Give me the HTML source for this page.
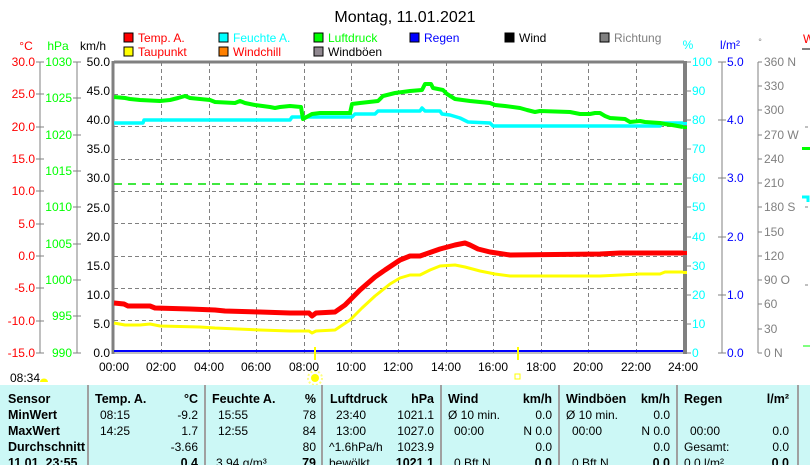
<!DOCTYPE html>
<html><head><meta charset="utf-8"><style>
html,body{margin:0;padding:0;background:#fff;width:810px;height:465px;overflow:hidden}
svg{display:block;font-family:"Liberation Sans",sans-serif}
.t{font-size:12px}
.b{font-size:12.5px;font-weight:bold}
</style></head><body>
<svg width="810" height="465" viewBox="0 0 810 465" xmlns="http://www.w3.org/2000/svg">
<text x="405" y="22" font-size="16" text-anchor="middle" fill="#000">Montag, 11.01.2021</text>
<!-- legend -->
<g font-size="12">
<rect x="124" y="33" width="9" height="9" fill="#f00" stroke="#000"/><text x="138" y="42" fill="#f00">Temp. A.</text>
<rect x="124" y="47" width="9" height="9" fill="#ff0" stroke="#000"/><text x="138" y="56" fill="#f00">Taupunkt</text>
<rect x="219" y="33" width="9" height="9" fill="#0ff" stroke="#000"/><text x="233" y="42" fill="#0ff">Feuchte A.</text>
<rect x="219" y="47" width="9" height="9" fill="#ff8000" stroke="#000"/><text x="233" y="56" fill="#f00">Windchill</text>
<rect x="314" y="33" width="9" height="9" fill="#0f0" stroke="#000"/><text x="328" y="42" fill="#0f0">Luftdruck</text>
<rect x="314" y="47" width="9" height="9" fill="#908890" stroke="#000"/><text x="328" y="56" fill="#000">Windböen</text>
<rect x="410" y="33" width="9" height="9" fill="#00f" stroke="#000"/><text x="424" y="42" fill="#00f">Regen</text>
<rect x="505" y="33" width="9" height="9" fill="#000" stroke="#000"/><text x="519" y="42" fill="#000">Wind</text>
<rect x="600" y="33" width="9" height="9" fill="#808080" stroke="#000"/><text x="614" y="42" fill="#808080">Richtung</text>
</g>
<!-- axis titles -->
<g font-size="12">
<text x="26" y="50" fill="#f00" text-anchor="middle">°C</text>
<text x="58" y="50" fill="#0f0" text-anchor="middle">hPa</text>
<text x="93" y="50" fill="#000" text-anchor="middle">km/h</text>
<text x="688" y="49" fill="#0ff" text-anchor="middle">%</text>
<text x="730" y="49" fill="#00f" text-anchor="middle">l/m²</text>
<text x="760" y="45" fill="#808080" text-anchor="middle" font-size="9">°</text>
<text x="803" y="43" fill="#f00">W</text>
<line x1="802" y1="49" x2="810" y2="49" stroke="#808080" stroke-width="2"/>
</g>
<!-- left axes -->
<g stroke="#808080" stroke-width="1">
<line x1="40" y1="62" x2="40" y2="353"/><line x1="77" y1="62" x2="77" y2="353"/>
</g>
<g font-size="12" fill="#f00" text-anchor="end">
<text x="35" y="66">30.0</text><text x="35" y="98">25.0</text><text x="35" y="131">20.0</text><text x="35" y="163">15.0</text><text x="35" y="195">10.0</text><text x="35" y="228">5.0</text><text x="35" y="260">0.0</text><text x="35" y="292">-5.0</text><text x="35" y="325">-10.0</text><text x="35" y="357">-15.0</text>
</g>
<g stroke="#808080"><path d="M36 62h8M36 94h8M36 127h8M36 159h8M36 191h8M36 224h8M36 256h8M36 288h8M36 321h8M36 353h8M73 62h8M73 98h8M73 135h8M73 171h8M73 207h8M73 244h8M73 280h8M73 316h8M73 353h8"/></g>
<g font-size="12" fill="#0f0" text-anchor="end">
<text x="72" y="66">1030</text><text x="72" y="102">1025</text><text x="72" y="139">1020</text><text x="72" y="175">1015</text><text x="72" y="211">1010</text><text x="72" y="248">1005</text><text x="72" y="284">1000</text><text x="72" y="320">995</text><text x="72" y="357">990</text>
</g>
<g font-size="12" fill="#000" text-anchor="end">
<text x="110" y="66">50.0</text><text x="110" y="95">45.0</text><text x="110" y="124">40.0</text><text x="110" y="153">35.0</text><text x="110" y="182">30.0</text><text x="110" y="212">25.0</text><text x="110" y="241">20.0</text><text x="110" y="270">15.0</text><text x="110" y="299">10.0</text><text x="110" y="328">5.0</text><text x="110" y="357">0.0</text>
</g>
<!-- grid -->
<g stroke="#808080" stroke-dasharray="4,3" stroke-width="1">
<path d="M114 94.5H683M114 126.5H683M114 159.5H683M114 191.5H683M114 223.5H683M114 256.5H683M114 288.5H683M114 320.5H683"/>
<path d="M161.5 62V353M209.5 62V353M256.5 62V353M304.5 62V353M351.5 62V353M398.5 62V353M446.5 62V353M493.5 62V353M541.5 62V353M588.5 62V353M636.5 62V353"/>
</g>
<!-- plot frame -->
<g stroke="#808080" fill="none">
<path d="M114 62H684" stroke-width="3"/>
<path d="M113 61V354" stroke-width="3"/>
<path d="M685 61V354" stroke-width="4"/>
<path d="M114 353H683" stroke-width="1"/>
</g>
<line x1="114" y1="184" x2="683" y2="184" stroke="#00e000" stroke-width="1.5" stroke-dasharray="8,6"/>
<line x1="114" y1="351" x2="683" y2="351" stroke="#00f" stroke-width="2"/>
<!-- series -->
<g fill="none" stroke-width="4" stroke-linejoin="round">
<polyline stroke="#0ff" stroke-width="3.5" points="114,123 143,123 144,120 290,120 292,117 352,117 355,114 375,114 378,111 420,111 422,108 425,111 440,111 442,114 450,115 460,118 468,122 490,123 493,126 660,126 662,123 683,123"/>
<polyline stroke="#0f0" points="114,97 125,98 130,99 140,100 160,101 170,100 178,98 185,96 190,98 210,100 215,102 235,103 240,101 245,103 255,105 270,107 275,108 280,107 290,106 301,107 303,119 312,114 320,113 350,113 352,104 360,103 378,101 383,96 395,93 410,91 422,90 425,84 431,84 433,88 443,90 447,94 455,99 470,101 490,103 495,105 505,106 520,108 527,110 535,112 540,111 570,112 580,114 590,114 595,113 600,113 605,116 610,118 625,119 630,122 640,121 645,122 660,123 665,124 672,125 683,127"/>
<polyline stroke="#f00" stroke-width="5" points="114,303 124,304 128,306 150,306 155,308 190,309 215,310 225,311 260,312 290,313 309,313 312,316 316,313 335,312 345,305 360,290 375,277 385,270 400,260 410,256 420,256 440,249 455,245 465,243 470,245 478,249 490,252 510,255 600,254 620,253 650,253 683,253"/>
<polyline stroke="#ff0" stroke-width="3" points="114,323 125,325 140,325 150,324 160,326 200,327 215,328 260,330 290,331 309,331 312,333 316,331 335,330 350,320 362,308 375,296 390,284 400,278 410,275 420,275 430,270 440,266 455,265 465,267 480,271 495,274 510,276 600,276 640,274 660,274 665,272 683,272"/>
</g>
<!-- sun markers -->
<line x1="315" y1="347" x2="315" y2="360" stroke="#ff0" stroke-width="2"/>
<line x1="518" y1="347" x2="518" y2="360" stroke="#ff0" stroke-width="2"/>
<circle cx="315" cy="378" r="4" fill="#ff0"/><circle cx="315" cy="378" r="7" fill="none" stroke="#ffff80" stroke-width="2" stroke-dasharray="2,2"/>
<rect x="515" y="374" width="5" height="5" fill="none" stroke="#ff0"/>
<!-- x labels -->
<g font-size="12" fill="#000" text-anchor="middle">
<text x="114" y="371">00:00</text><text x="161" y="371">02:00</text><text x="209" y="371">04:00</text><text x="256" y="371">06:00</text><text x="304" y="371">08:00</text><text x="351" y="371">10:00</text><text x="398" y="371">12:00</text><text x="446" y="371">14:00</text><text x="493" y="371">16:00</text><text x="541" y="371">18:00</text><text x="588" y="371">20:00</text><text x="636" y="371">22:00</text><text x="683" y="371">24:00</text>
</g>
<text x="10" y="382" font-size="12">08:34</text>
<path d="M40 382a4 3.5 0 0 1 8 0z" fill="#ff0"/>
<!-- right axes -->
<g stroke="#808080">
<line x1="722" y1="62" x2="722" y2="353"/><line x1="758" y1="62" x2="758" y2="353"/>
<path d="M687 62h4M687 91h4M687 120h4M687 149h4M687 178h4M687 207h4M687 237h4M687 266h4M687 295h4M687 324h4M687 353h4"/>
<path d="M718 62h8M718 120h8M718 178h8M718 237h8M718 295h8M718 353h8"/>
<path d="M758 62h4M758 86h4M758 110h4M758 135h4M758 159h4M758 183h4M758 207h4M758 232h4M758 256h4M758 280h4M758 304h4M758 329h4M758 353h4"/>
<path d="M805 127h3M805 207h3M805 285h3"/>
</g>
<g font-size="12" fill="#0ff">
<text x="692" y="66">100</text><text x="692" y="95">90</text><text x="692" y="124">80</text><text x="692" y="153">70</text><text x="692" y="182">60</text><text x="692" y="211">50</text><text x="692" y="241">40</text><text x="692" y="270">30</text><text x="692" y="299">20</text><text x="692" y="328">10</text><text x="692" y="357">0</text>
</g>
<g font-size="12" fill="#00f">
<text x="727" y="66">5.0</text><text x="727" y="124">4.0</text><text x="727" y="182">3.0</text><text x="727" y="241">2.0</text><text x="727" y="299">1.0</text><text x="727" y="357">0.0</text>
</g>
<g font-size="12" fill="#808080">
<text x="764" y="66">360 N</text><text x="764" y="90">330</text><text x="764" y="114">300</text><text x="764" y="139">270 W</text><text x="764" y="163">240</text><text x="764" y="187">210</text><text x="764" y="211">180 S</text><text x="764" y="236">150</text><text x="764" y="260">120</text><text x="764" y="284">90  O</text><text x="764" y="308">60</text><text x="764" y="333">30</text><text x="764" y="357">0   N</text>
</g>
<rect x="683" y="122" width="4" height="3" fill="#0ff"/><rect x="683" y="126" width="4" height="3" fill="#0f0"/>
<rect x="683" y="251" width="4" height="4" fill="#f00"/><rect x="683" y="271" width="4" height="3" fill="#ff0"/>
<rect x="802" y="147" width="8" height="3" fill="#0f0"/>
<path d="M802 197h6v5" stroke="#0ff" stroke-width="3" fill="none"/>
<line x1="803" y1="346" x2="810" y2="346" stroke="#0f0"/>
<!-- table -->
<rect x="0" y="385" width="810" height="80" fill="#ccf8f6"/>
<g stroke="#a0a0a0" stroke-width="2">
<line x1="88" y1="385" x2="88" y2="465"/><line x1="205" y1="385" x2="205" y2="465"/><line x1="322" y1="385" x2="322" y2="465"/><line x1="441" y1="385" x2="441" y2="465"/><line x1="559" y1="385" x2="559" y2="465"/><line x1="677" y1="385" x2="677" y2="465"/><line x1="798" y1="385" x2="798" y2="465"/>
</g>
<g class="b" fill="#000" font-size="12.5" font-weight="bold">
<text x="8" y="403">Sensor</text><text x="8" y="419">MinWert</text><text x="8" y="435">MaxWert</text><text x="8" y="451">Durchschnitt</text><text x="8" y="467">11.01. 23:55</text>
<text x="95" y="403">Temp. A.</text><text x="198" y="403" text-anchor="end">°C</text>
<text x="212" y="403">Feuchte A.</text><text x="316" y="403" text-anchor="end">%</text>
<text x="330" y="403">Luftdruck</text><text x="434" y="403" text-anchor="end">hPa</text>
<text x="448" y="403">Wind</text><text x="552" y="403" text-anchor="end">km/h</text>
<text x="566" y="403">Windböen</text><text x="670" y="403" text-anchor="end">km/h</text>
<text x="684" y="403">Regen</text><text x="789" y="403" text-anchor="end">l/m²</text>
<text x="198" y="467" text-anchor="end">0.4</text><text x="316" y="467" text-anchor="end">79</text><text x="434" y="467" text-anchor="end">1021.1</text><text x="552" y="467" text-anchor="end">0.0</text><text x="670" y="467" text-anchor="end">0.0</text><text x="789" y="467" text-anchor="end">0.0</text>
</g>
<g font-size="12" fill="#000">
<text x="100" y="419">08:15</text><text x="198" y="419" text-anchor="end">-9.2</text>
<text x="100" y="435">14:25</text><text x="198" y="435" text-anchor="end">1.7</text>
<text x="198" y="451" text-anchor="end">-3.66</text>
<text x="218" y="419">15:55</text><text x="316" y="419" text-anchor="end">78</text>
<text x="218" y="435">12:55</text><text x="316" y="435" text-anchor="end">84</text>
<text x="316" y="451" text-anchor="end">80</text>
<text x="216" y="467">3.94 g/m³</text>
<text x="336" y="419">23:40</text><text x="434" y="419" text-anchor="end">1021.1</text>
<text x="336" y="435">13:00</text><text x="434" y="435" text-anchor="end">1027.0</text>
<text x="329" y="451">^1.6hPa/h</text><text x="434" y="451" text-anchor="end">1023.9</text>
<text x="329" y="467">bewölkt</text>
<text x="448" y="419">Ø 10 min.</text><text x="552" y="419" text-anchor="end">0.0</text>
<text x="454" y="435">00:00</text><text x="552" y="435" text-anchor="end">N 0.0</text>
<text x="552" y="451" text-anchor="end">0.0</text>
<text x="454" y="467">0 Bft N</text>
<text x="566" y="419">Ø 10 min.</text><text x="670" y="419" text-anchor="end">0.0</text>
<text x="572" y="435">00:00</text><text x="670" y="435" text-anchor="end">N 0.0</text>
<text x="670" y="451" text-anchor="end">0.0</text>
<text x="572" y="467">0 Bft N</text>
<text x="690" y="435">00:00</text><text x="789" y="435" text-anchor="end">0.0</text>
<text x="684" y="451">Gesamt:</text><text x="789" y="451" text-anchor="end">0.0</text>
<text x="684" y="467">0.0 l/m²</text>
</g>
</svg>
</body></html>
